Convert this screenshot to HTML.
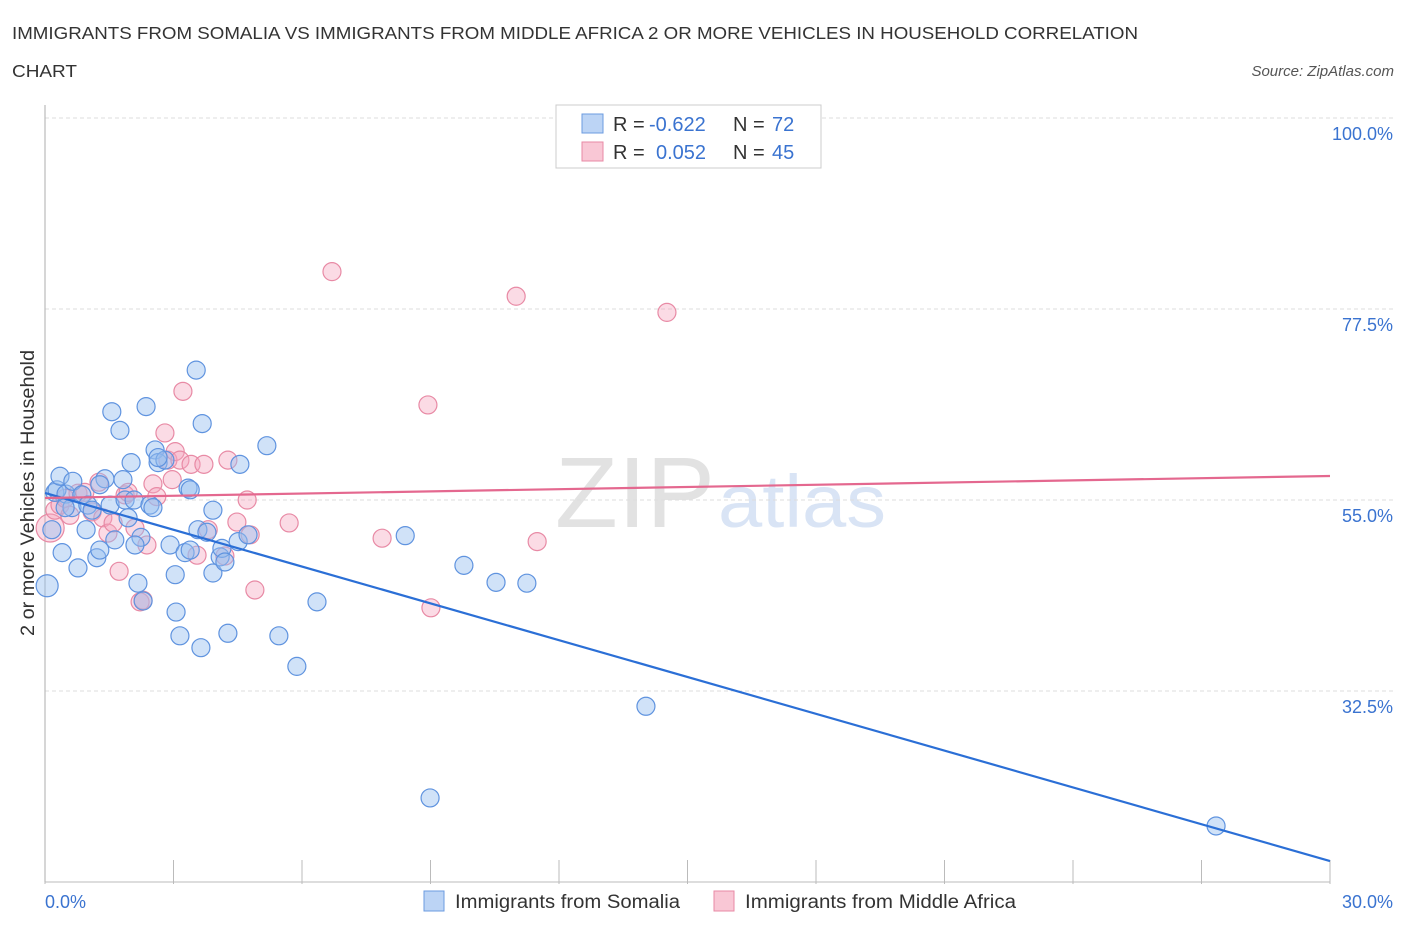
<!DOCTYPE html>
<html><head><meta charset="utf-8"><style>
body{margin:0;background:#fff;font-family:"Liberation Sans",sans-serif;}
svg text{font-family:"Liberation Sans",sans-serif;}
</style></head><body>
<svg id="chart" width="1406" height="930" xmlns="http://www.w3.org/2000/svg">
<text x="12" y="39" font-size="17.5" fill="#333" textLength="1126" lengthAdjust="spacingAndGlyphs">IMMIGRANTS FROM SOMALIA VS IMMIGRANTS FROM MIDDLE AFRICA 2 OR MORE VEHICLES IN HOUSEHOLD CORRELATION</text>
<text x="12" y="77" font-size="17.5" fill="#333" textLength="65" lengthAdjust="spacingAndGlyphs">CHART</text>
<text x="1394" y="76" font-size="15" fill="#555" font-style="italic" text-anchor="end">Source: ZipAtlas.com</text>
<text x="555" y="527" font-size="100" fill="#e2e2e2" font-family="Liberation Serif" textLength="160" lengthAdjust="spacingAndGlyphs">ZIP</text>
<text x="718" y="527" font-size="74" fill="#d9e4f5" textLength="168" lengthAdjust="spacingAndGlyphs">atlas</text>
<g id="grid"></g>
<line x1="45" y1="105" x2="45" y2="882" stroke="#bbb" stroke-width="1.2"/>
<line x1="45" y1="882" x2="1330" y2="882" stroke="#bbb" stroke-width="1"/>
<text transform="translate(34,493) rotate(-90)" font-size="19" fill="#333" text-anchor="middle" textLength="286" lengthAdjust="spacingAndGlyphs">2 or more Vehicles in Household</text>
<g id="pts"></g>
<g id="lines"></g>
<g>
<rect x="556" y="105" width="265" height="63" fill="#fff" stroke="#ccc"/>
<rect x="582" y="114" width="21" height="19" fill="#bcd4f5" stroke="#6b9be0"/>
<rect x="582" y="142" width="21" height="19" fill="#f9c7d5" stroke="#e88aa5"/>
<text x="613" y="131" font-size="20" fill="#333">R =</text>
<text x="649" y="131" font-size="20" fill="#3a73d0">-0.622</text>
<text x="733" y="131" font-size="20" fill="#333">N =</text>
<text x="772" y="131" font-size="20" fill="#3a73d0">72</text>
<text x="613" y="159" font-size="20" fill="#333">R =</text>
<text x="656" y="159" font-size="20" fill="#3a73d0">0.052</text>
<text x="733" y="159" font-size="20" fill="#333">N =</text>
<text x="772" y="159" font-size="20" fill="#3a73d0">45</text>
</g>
<text x="45" y="908" font-size="18" fill="#3a73d0">0.0%</text>
<text x="1393" y="908" font-size="18" fill="#3a73d0" text-anchor="end">30.0%</text>
<g>
<rect x="424" y="891" width="20" height="20" fill="#bcd4f5" stroke="#6b9be0"/>
<text x="455" y="908" font-size="19" fill="#333" textLength="225" lengthAdjust="spacingAndGlyphs">Immigrants from Somalia</text>
<rect x="714" y="891" width="20" height="20" fill="#f9c7d5" stroke="#e88aa5"/>
<text x="745" y="908" font-size="19" fill="#333" textLength="271" lengthAdjust="spacingAndGlyphs">Immigrants from Middle Africa</text>
</g>
</svg>
<script>
const yTicks=[100,77.5,55,32.5];
const xTickCount=10;
const somaliaX=[0.05,0.16,0.23,0.28,0.35,0.40,0.49,0.65,0.77,0.63,0.86,0.96,1.00,1.10,1.21,1.28,1.40,1.52,1.56,1.63,1.75,1.82,1.87,1.94,2.01,2.08,2.17,2.24,2.29,2.36,2.45,2.52,2.57,2.64,2.80,2.92,3.04,3.06,3.15,3.27,3.34,3.39,3.53,3.57,3.64,3.67,3.78,3.92,3.92,4.09,4.13,4.20,4.27,4.51,4.55,4.74,5.18,5.46,5.88,6.35,8.41,8.99,9.78,10.53,11.25,14.03,27.34,0.47,1.28,3.39,2.64,2.10];
const somaliaY=[44.9,51.5,55.9,56.2,57.8,48.8,55.7,57.2,47.0,54.1,55.6,51.5,54.4,53.8,48.2,49.1,57.5,54.4,65.4,50.3,63.2,57.4,55.0,52.9,59.4,55.0,45.2,50.6,43.1,66.0,54.4,54.1,60.9,59.4,59.7,49.7,46.2,41.8,39.0,48.8,56.4,49.1,70.3,51.5,37.6,64.0,51.2,46.4,53.8,48.3,49.3,47.7,39.3,50.1,59.2,50.9,61.4,39.0,35.4,43.0,50.8,19.9,47.3,45.3,45.2,30.7,16.6,54.1,56.8,56.2,60.0,49.7];
const africaX=[0.12,0.23,0.35,0.47,0.58,0.77,0.93,1.10,1.26,1.35,1.47,1.59,1.73,1.87,1.94,2.10,2.22,2.29,2.38,2.52,2.61,2.80,2.87,2.97,3.04,3.15,3.22,3.41,3.55,3.71,3.81,4.20,4.27,4.48,4.72,4.79,4.90,5.70,6.70,7.87,8.94,9.01,11.00,11.49,14.52];
const africaY=[51.7,53.8,54.4,55.2,53.2,55.8,55.9,53.6,57.1,52.9,51.1,52.3,46.6,55.6,55.9,51.7,43.0,43.2,49.7,56.9,55.4,62.9,59.7,57.4,60.7,59.7,67.8,59.2,48.5,59.2,51.5,48.4,59.7,52.4,55.0,50.9,44.4,52.3,81.9,50.5,66.2,42.3,79.0,50.1,77.1];
const somaliaTrend=[55.83,12.47];
const africaTrend=[55.24,57.83];
const NS='http://www.w3.org/2000/svg';
const X=v=>45+v*(1285/30);
const Y=v=>118+(100-v)*(191/22.5);
function mk(t,a){const e=document.createElementNS(NS,t);for(const k in a)e.setAttribute(k,a[k]);return e;}
const grid=document.getElementById('grid');
yTicks.forEach((t,i)=>{
 const l=mk('line',{x1:45,x2:1395,y1:Y(t),y2:Y(t),stroke:'#ddd','stroke-dasharray':'4,3'});
 
 
 grid.appendChild(l);
 const tx=mk('text',{x:1393,y:Y(t)+22,'font-size':18,fill:'#3a73d0','text-anchor':'end'});
 
 
 tx.textContent=t.toFixed(1)+'%';grid.appendChild(tx);
});
for(let i=0;i<=xTickCount;i++){
 const x=X(i*30/xTickCount);
 const l=mk('line',{x1:x,x2:x,y1:860,y2:884,stroke:'#bbb'});
 
 
 grid.appendChild(l);
}
const pts=document.getElementById('pts');
africaX.forEach((x,i)=>{
 const c=mk('circle',{cx:X(x),cy:Y(africaY[i]),r:i==0?14:9,fill:'rgba(245,165,190,0.4)',stroke:'#e88aa5','stroke-width':1.2});
 
 
 pts.appendChild(c);
});
somaliaX.forEach((x,i)=>{
 const c=mk('circle',{cx:X(x),cy:Y(somaliaY[i]),r:i==0?11:9,fill:'rgba(150,190,240,0.45)',stroke:'#5f93df','stroke-width':1.2});
 
 
 pts.appendChild(c);
});
const lines=document.getElementById('lines');
const b=mk('line',{x1:X(0),y1:Y(somaliaTrend[0]),x2:X(30),y2:Y(somaliaTrend[1]),stroke:'#2b6fd6','stroke-width':2.2});


lines.appendChild(b);
const p=mk('line',{x1:X(0),y1:Y(africaTrend[0]),x2:X(30),y2:Y(africaTrend[1]),stroke:'#e4688f','stroke-width':2.2});


lines.appendChild(p);
</script>
</body></html>
